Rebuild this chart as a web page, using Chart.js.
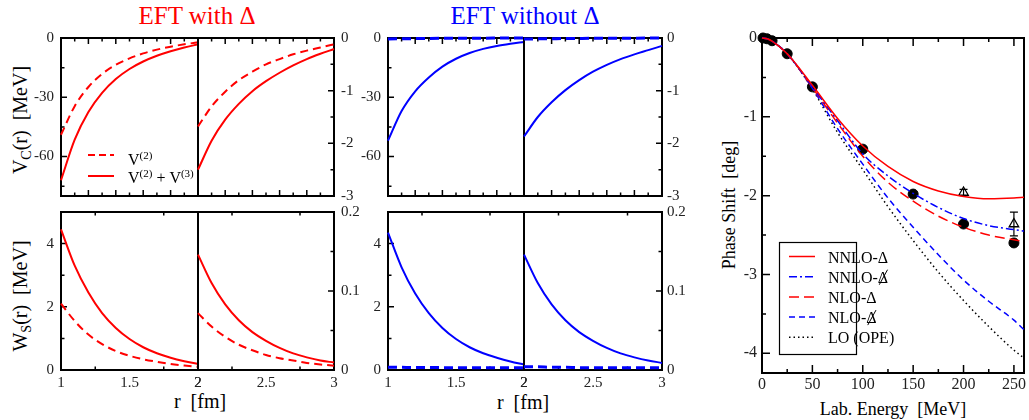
<!DOCTYPE html>
<html>
<head>
<meta charset="utf-8">
<script src="https://cdn.jsdelivr.net/npm/chart.js@4.4.0/dist/chart.umd.min.js"></script>
<style>
  body { margin: 0; background: #fff; }
  #wrap { position: relative; width: 1029px; height: 420px; overflow: hidden; font-family: "Liberation Serif", "Times New Roman", serif; }
  #wrap canvas { position: absolute; }
  .t { position: absolute; white-space: nowrap; line-height: 1; transform: translate(-50%, -50%); color: #000; }
  .rot { transform: translate(-50%, -50%) rotate(-90deg); }
  .t sub { font-size: 70%; vertical-align: -0.3em; line-height: 0; }
</style>
</head>
<body>
<div id="wrap">
  <div class="t" style="left:197px;top:15px;font-size:25px;color:#ff0000">EFT with Δ</div>
  <div class="t" style="left:525px;top:15px;font-size:25px;color:#0000ff">EFT without Δ</div>
  <div class="t rot" style="left:20px;top:120px;font-size:20px">V<sub>C</sub>(r)&nbsp;&nbsp;[MeV]</div>
  <div class="t rot" style="left:20px;top:296px;font-size:20px">W<sub>S</sub>(r)&nbsp;&nbsp;[MeV]</div>
  <div class="t" style="left:200px;top:401px;font-size:20px">r&nbsp;&nbsp;[fm]</div>
  <div class="t" style="left:523px;top:402px;font-size:20px">r&nbsp;&nbsp;[fm]</div>
  <div class="t rot" style="left:729px;top:205px;font-size:18px">Phase Shift&nbsp;&nbsp;[deg]</div>
  <div class="t" style="left:893px;top:409px;font-size:18px">Lab. Energy&nbsp;&nbsp;[MeV]</div>
</div>
<script>
// radial grids (fm)
const rNear = [1.0, 1.1, 1.2, 1.3, 1.4, 1.5, 1.6, 1.7, 1.8, 1.9, 2.0];
const rFar = [2.0, 2.1, 2.2, 2.3, 2.4, 2.5, 2.6, 2.7, 2.8, 2.9, 3.0];

// V_C, EFT with Delta
const vcDeltaV2Near = [-49, -34.5, -24.8, -18.2, -13.6, -10.3, -7.8, -5.9, -4.4, -3.2, -2.2];
const vcDeltaV23Near = [-72, -51.5, -37.5, -27.8, -20.8, -15.7, -11.9, -9.0, -6.7, -4.8, -3.2];
const vcDeltaV2Far = [-1.68, -1.3, -1.02, -0.8, -0.64, -0.5, -0.4, -0.31, -0.24, -0.18, -0.12];
const vcDeltaV23Far = [-2.5, -1.95, -1.55, -1.25, -1.01, -0.82, -0.66, -0.52, -0.4, -0.3, -0.21];
// V_C, EFT without Delta
const vcNoDeltaV2Near = [-0.5, -0.4, -0.3, -0.22, -0.16, -0.12, -0.09, -0.07, -0.05, -0.04, -0.03];
const vcNoDeltaV23Near = [-52, -37, -27, -20, -14.5, -10.5, -7.6, -5.5, -4.0, -2.9, -2.0];
const vcNoDeltaV2Far = [-0.02, -0.016, -0.013, -0.01, -0.008, -0.006, -0.005, -0.004, -0.003, -0.002, -0.002];
const vcNoDeltaV23Far = [-1.87, -1.5, -1.22, -0.99, -0.8, -0.64, -0.51, -0.4, -0.31, -0.23, -0.15];
// W_S, EFT with Delta
const wsDeltaV2Near = [2.1, 1.55, 1.12, 0.82, 0.6, 0.45, 0.34, 0.26, 0.19, 0.14, 0.1];
const wsDeltaV23Near = [4.45, 3.3, 2.45, 1.8, 1.33, 0.98, 0.72, 0.53, 0.39, 0.28, 0.19];
const wsDeltaV2Far = [0.072, 0.055, 0.042, 0.032, 0.025, 0.019, 0.015, 0.012, 0.009, 0.007, 0.0055];
const wsDeltaV23Far = [0.146, 0.11, 0.083, 0.063, 0.048, 0.037, 0.028, 0.021, 0.016, 0.012, 0.0095];
// W_S, EFT without Delta
const wsNoDeltaV2Near = [0.09, 0.085, 0.08, 0.08, 0.075, 0.075, 0.07, 0.07, 0.07, 0.07, 0.07];
const wsNoDeltaV23Near = [4.35, 3.25, 2.42, 1.8, 1.33, 0.98, 0.72, 0.53, 0.39, 0.27, 0.17];
const wsNoDeltaV2Far = [0.004, 0.004, 0.0035, 0.0035, 0.003, 0.003, 0.003, 0.003, 0.003, 0.003, 0.003];
const wsNoDeltaV23Far = [0.146, 0.11, 0.083, 0.063, 0.048, 0.037, 0.028, 0.021, 0.016, 0.012, 0.009];

// tick values
const vcNearLabels = [0, -30, -60];
const vcNearMinor = [-15, -45, -75];
const vcFarLabels = [0, -1, -2, -3];
const vcFarMinor = [-0.5, -1.5, -2.5];
const wsNearLabels = [0, 2, 4];
const wsNearMinor = [1, 3];
const wsFarLabels = [0, 0.1, 0.2];
const wsFarMinor = [0.05, 0.15];
const rNearLabels = [1, 1.5, 2];
const rFarLabels = [2, 2.5, 3];
const rNearQuarter = [1.25, 1.75];
const rFarQuarter = [2.25, 2.75];
const rNearTenthMajor = [1.2, 1.4, 1.6, 1.8];
const rNearTenthMinor = [1.1, 1.3, 1.5, 1.7, 1.9];
const rFarTenthMajor = [2.2, 2.4, 2.6, 2.8];
const rFarTenthMinor = [2.1, 2.3, 2.5, 2.7, 2.9];

// phase shifts (deg) vs lab energy (MeV)
const energy = [0, 5, 10, 25, 50, 75, 100, 125, 150, 175, 200, 225, 250, 260];
const nnloDelta = [0, -0.01, -0.04, -0.2, -0.6, -1.02, -1.37, -1.63, -1.82, -1.94, -2.01, -2.04, -2.03, -2.02];
const nnloNoDelta = [0, -0.01, -0.04, -0.2, -0.62, -1.05, -1.47, -1.75, -1.97, -2.15, -2.29, -2.38, -2.43, -2.45];
const nloDelta = [0, -0.01, -0.04, -0.2, -0.63, -1.08, -1.5, -1.83, -2.07, -2.26, -2.4, -2.5, -2.56, -2.58];
const nloNoDelta = [0, -0.01, -0.04, -0.2, -0.64, -1.15, -1.6, -2.03, -2.4, -2.75, -3.07, -3.34, -3.58, -3.7];
const loOpe = [0, -0.01, -0.04, -0.2, -0.65, -1.2, -1.67, -2.14, -2.57, -2.97, -3.33, -3.66, -3.96, -4.06];
const pwaE = [1, 5, 10, 25, 50, 100, 150, 200, 250];
const pwaDelta = [0, -0.01, -0.035, -0.2, -0.62, -1.41, -1.98, -2.36, -2.6];
const triE = [200, 250];
const triDelta = [-1.96, -2.36];
const triErr = [0.04, 0.15];
const eLabels = [0, 50, 100, 150, 200, 250];
const eMinor = [25, 75, 125, 175, 225];
const phLabels = [0, -1, -2, -3, -4];
const phMinor = [-0.5, -1.5, -2.5, -3.5];
const legendNames = ["NNLO-Δ", "NNLO-Δ", "NLO-Δ", "NLO-Δ", "LO (OPE)"];
const legendSlashed = [false, true, false, true, false];

const RED = "#ff0000";
const BLUE = "#0000ff";
const M = 60;
const SERIF = '"Liberation Serif", "Times New Roman", serif';
Chart.defaults.font.family = SERIF;

function line(xs, ys, color, width, dash) {
  return {
    data: xs.map((x, i) => ({ x, y: ys[i] })),
    borderColor: color,
    borderWidth: width,
    borderDash: dash || [],
    pointRadius: 0,
    fill: false,
    cubicInterpolationMode: "monotone",
    clip: false
  };
}

// inward ticks and the frame
function marks(o) {
  return {
    id: "marks",
    beforeDatasetsDraw(chart) {
      const { ctx, chartArea: a, scales } = chart;
      const xs = scales.x, ys = scales.y;
      ctx.save();
      ctx.strokeStyle = "#000";
      ctx.lineWidth = 1.5;
      ctx.beginPath();
      const xt = (vals, len) => (vals || []).forEach((v) => {
        const px = xs.getPixelForValue(v);
        ctx.moveTo(px, a.bottom); ctx.lineTo(px, a.bottom - len);
        ctx.moveTo(px, a.top); ctx.lineTo(px, a.top + len);
      });
      const yt = (vals, len) => (vals || []).forEach((v) => {
        const py = ys.getPixelForValue(v);
        if (o.yLeft) { ctx.moveTo(a.left, py); ctx.lineTo(a.left + len, py); }
        if (o.yRight) { ctx.moveTo(a.right, py); ctx.lineTo(a.right - len, py); }
      });
      xt(o.xMajor, o.major); xt(o.xMinor, o.minor);
      yt(o.yMajor, o.major); yt(o.yMinor, o.minor);
      ctx.stroke();
      ctx.lineWidth = 2;
      ctx.strokeRect(a.left, a.top, a.width, a.height);
      ctx.restore();
    }
  };
}

function panel(box, cfg) {
  const cv = document.createElement("canvas");
  const w = box.r - box.l + 2 * M, h = box.b - box.t + 2 * M;
  cv.width = w; cv.height = h;
  cv.style.left = (box.l - M) + "px"; cv.style.top = (box.t - M) + "px";
  cv.style.width = w + "px"; cv.style.height = h + "px";
  document.getElementById("wrap").appendChild(cv);
  const onRight = cfg.ySide === "right";
  const font = { family: SERIF, size: cfg.fontSize || 15 };
  return new Chart(cv, {
    type: "line",
    data: { datasets: cfg.datasets },
    options: {
      responsive: false,
      animation: false,
      devicePixelRatio: 1,
      layout: { padding: { left: onRight ? M : 0, right: onRight ? 0 : M, top: M, bottom: 0 } },
      plugins: { legend: { display: false }, tooltip: { enabled: false } },
      scales: {
        x: {
          type: "linear", min: cfg.xMin, max: cfg.xMax,
          grid: { display: false, drawTicks: false }, border: { display: false },
          ticks: { display: cfg.showX, padding: cfg.xPad || 4, font, color: "#222", maxRotation: 0, autoSkip: false, callback: (v) => String(v) },
          afterBuildTicks: (s) => { s.ticks = cfg.xLabels.map((v) => ({ value: v })); },
          afterFit: (s) => { s.height = M; }
        },
        y: {
          type: "linear", position: cfg.ySide, min: cfg.yMin, max: cfg.yMax,
          grid: { display: false, drawTicks: false }, border: { display: false },
          ticks: { padding: cfg.yPad || 7, font, color: "#222", autoSkip: false, callback: (v) => String(v) },
          afterBuildTicks: (s) => { s.ticks = cfg.yLabels.map((v) => ({ value: v })); },
          afterFit: (s) => { s.width = M; }
        }
      }
    },
    plugins: [marks({
      yLeft: !onRight, yRight: onRight,
      xMajor: cfg.xMajor, xMinor: cfg.xMinor, yMajor: cfg.yLabels, yMinor: cfg.yMinor,
      major: cfg.major || 6, minor: cfg.minor || 3.5
    })].concat(cfg.extra || [])
  });
}

function drawRich(ctx, x, y, parts, size) {
  parts.forEach(([s, sup]) => {
    ctx.font = (sup ? Math.round(size * 0.66) : size) + "px " + SERIF;
    ctx.fillText(s, x, sup ? y - size * 0.4 : y);
    x += ctx.measureText(s).width;
  });
}

const vLegend = {
  id: "vLegend",
  afterDraw(chart) {
    const { ctx, chartArea: a } = chart;
    ctx.save();
    ctx.strokeStyle = RED; ctx.lineWidth = 2;
    ctx.setLineDash([7, 4]);
    ctx.beginPath(); ctx.moveTo(a.left + 27, a.top + 117); ctx.lineTo(a.left + 53, a.top + 117); ctx.stroke();
    ctx.setLineDash([]);
    ctx.beginPath(); ctx.moveTo(a.left + 27, a.top + 138); ctx.lineTo(a.left + 53, a.top + 138); ctx.stroke();
    ctx.fillStyle = "#000";
    ctx.textBaseline = "alphabetic";
    drawRich(ctx, a.left + 67, a.top + 127, [["V", false], ["(2)", true]], 16);
    drawRich(ctx, a.left + 67, a.top + 145, [["V", false], ["(2)", true], [" + V", false], ["(3)", true]], 16);
    ctx.restore();
  }
};

const errorBars = {
  id: "errorBars",
  beforeDatasetsDraw(chart) {
    const { ctx, scales: { x, y } } = chart;
    ctx.save();
    ctx.strokeStyle = "#000"; ctx.lineWidth = 1.2;
    triE.forEach((e, i) => {
      const px = x.getPixelForValue(e);
      const y1 = y.getPixelForValue(triDelta[i] + triErr[i]);
      const y2 = y.getPixelForValue(triDelta[i] - triErr[i]);
      ctx.beginPath();
      ctx.moveTo(px, y1); ctx.lineTo(px, y2);
      ctx.moveTo(px - 4, y1); ctx.lineTo(px + 4, y1);
      ctx.moveTo(px - 4, y2); ctx.lineTo(px + 4, y2);
      ctx.stroke();
    });
    ctx.restore();
  }
};

const phaseLegend = {
  id: "phaseLegend",
  afterDraw(chart) {
    const { ctx, chartArea: a } = chart;
    ctx.save();
    ctx.fillStyle = "#fff";
    ctx.fillRect(a.left + 17.5, a.top + 204.5, 77, 112);
    ctx.strokeStyle = "#000"; ctx.lineWidth = 1.2;
    ctx.strokeRect(a.left + 17.5, a.top + 204.5, 77, 112);
    ctx.font = "16px " + SERIF;
    ctx.textBaseline = "alphabetic";
    legendNames.forEach((name, i) => {
      const ds = chart.data.datasets[i];
      const yy = a.top + 218.5 + i * 20.2;
      ctx.strokeStyle = ds.borderColor; ctx.lineWidth = ds.borderWidth;
      ctx.setLineDash(ds.borderDash);
      ctx.beginPath(); ctx.moveTo(a.left + 27, yy); ctx.lineTo(a.left + 53, yy); ctx.stroke();
      ctx.setLineDash([]);
      ctx.fillStyle = "#000";
      const tx = a.left + 66;
      ctx.fillText(name, tx, yy + 6);
      if (legendSlashed[i]) {
        const wd = ctx.measureText("Δ").width;
        const x0 = tx + ctx.measureText(name).width - wd;
        ctx.strokeStyle = "#000"; ctx.lineWidth = 1;
        ctx.beginPath(); ctx.moveTo(x0 + wd * 0.15, yy + 8); ctx.lineTo(x0 + wd * 0.95, yy - 7); ctx.stroke();
      }
    });
    ctx.restore();
  }
};

const topRow = { t: 38, b: 196 };
const botRow = { t: 212, b: 370 };
const cols = [
  { l: 61, r: 198 }, { l: 198, r: 334 },
  { l: 388, r: 524 }, { l: 524, r: 662 }
];

function vcPanel(ci, far, dsets) {
  panel(Object.assign({}, cols[ci], topRow), {
    datasets: dsets,
    xMin: far ? 2 : 1, xMax: far ? 3 : 2,
    xLabels: far ? rFarLabels : rNearLabels, showX: false,
    xMajor: far ? rFarTenthMajor : rNearTenthMajor, xMinor: far ? rFarTenthMinor : rNearTenthMinor,
    yMin: far ? -3 : -80, yMax: 0,
    yLabels: far ? vcFarLabels : vcNearLabels, yMinor: far ? vcFarMinor : vcNearMinor,
    ySide: far ? "right" : "left", yPad: ci === 3 ? 5 : 7,
    extra: ci === 0 ? [vLegend] : []
  });
}
function wsPanel(ci, far, dsets) {
  panel(Object.assign({}, cols[ci], botRow), {
    datasets: dsets,
    xMin: far ? 2 : 1, xMax: far ? 3 : 2,
    xLabels: far ? rFarLabels : rNearLabels, showX: true,
    xMajor: [], xMinor: far ? rFarQuarter : rNearQuarter,
    yMin: 0, yMax: far ? 0.2 : 5,
    yLabels: far ? wsFarLabels : wsNearLabels, yMinor: far ? wsFarMinor : wsNearMinor,
    ySide: far ? "right" : "left", yPad: ci === 3 ? 5 : 7
  });
}

vcPanel(0, false, [line(rNear, vcDeltaV2Near, RED, 2, [8, 5]), line(rNear, vcDeltaV23Near, RED, 2)]);
vcPanel(1, true, [line(rFar, vcDeltaV2Far, RED, 2, [8, 5]), line(rFar, vcDeltaV23Far, RED, 2)]);
vcPanel(2, false, [line(rNear, vcNoDeltaV2Near, BLUE, 3, [9, 5]), line(rNear, vcNoDeltaV23Near, BLUE, 2)]);
vcPanel(3, true, [line(rFar, vcNoDeltaV2Far, BLUE, 3, [9, 5]), line(rFar, vcNoDeltaV23Far, BLUE, 2)]);
wsPanel(0, false, [line(rNear, wsDeltaV2Near, RED, 2, [8, 5]), line(rNear, wsDeltaV23Near, RED, 2)]);
wsPanel(1, true, [line(rFar, wsDeltaV2Far, RED, 2, [8, 5]), line(rFar, wsDeltaV23Far, RED, 2)]);
wsPanel(2, false, [line(rNear, wsNoDeltaV2Near, BLUE, 3, [9, 5]), line(rNear, wsNoDeltaV23Near, BLUE, 2)]);
wsPanel(3, true, [line(rFar, wsNoDeltaV2Far, BLUE, 3, [9, 5]), line(rFar, wsNoDeltaV23Far, BLUE, 2)]);

// phase shift panel
panel({ l: 762, r: 1024, t: 38, b: 373 }, {
  datasets: [
    line(energy, nnloDelta, RED, 1.5),
    line(energy, nnloNoDelta, BLUE, 1.5, [8, 3, 2, 3]),
    line(energy, nloDelta, RED, 1.5, [10, 5]),
    line(energy, nloNoDelta, BLUE, 1.5, [6, 4]),
    line(energy, loOpe, "#000", 1.5, [1.5, 3]),
    {
      data: pwaE.map((x, i) => ({ x, y: pwaDelta[i] })),
      showLine: false, pointRadius: 5, pointBackgroundColor: "#000", pointBorderColor: "#000", clip: false
    },
    {
      data: triE.map((x, i) => ({ x, y: triDelta[i] })),
      showLine: false, pointStyle: "triangle", pointRadius: 5.5, pointBorderWidth: 1.3,
      pointBackgroundColor: "rgba(0,0,0,0)", pointBorderColor: "#000", clip: false
    }
  ],
  xMin: 0, xMax: 260, xLabels: eLabels, showX: true, xPad: 2,
  xMajor: eLabels, xMinor: eMinor,
  yMin: -4.25, yMax: 0, yLabels: phLabels, yMinor: phMinor,
  ySide: "left", yPad: 5, fontSize: 16, major: 8, minor: 4,
  extra: [errorBars, phaseLegend]
});
</script>
</body>
</html>
